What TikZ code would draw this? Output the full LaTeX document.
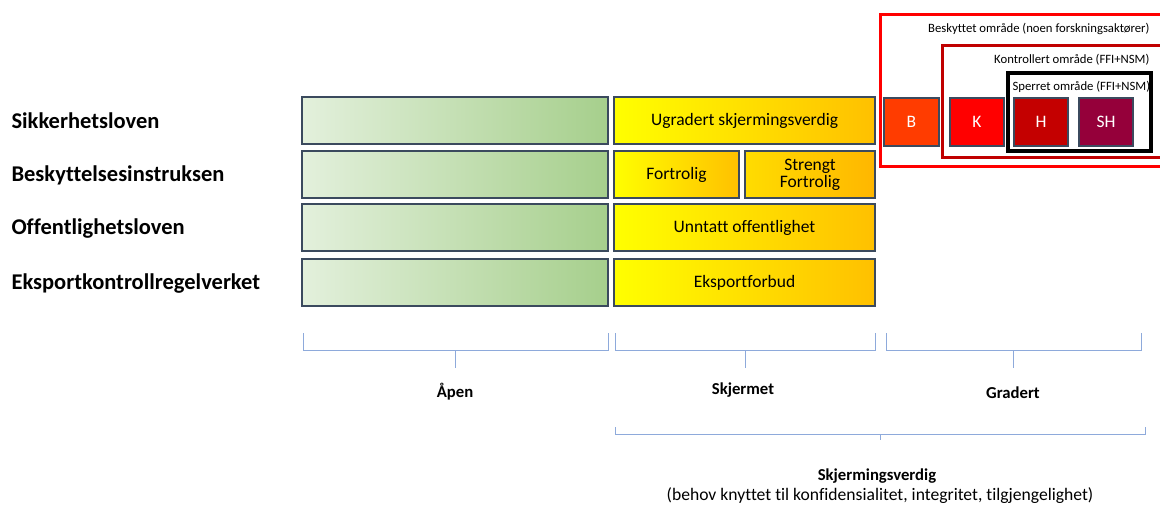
\documentclass[tikz,border=0pt]{standalone}
\usepackage{fontspec}
\setmainfont[Ligatures=NoCommon]{Carlito}
\begin{document}
\begin{tikzpicture}[x=1pt,y=-1pt,
  box/.style={draw=boxline,line width=1.2pt},
  greenbox/.style={box,left color=gA,right color=gB},
  yelbox/.style={box,left color=yellow,right color=yB},
  secbox/.style={box,text=white,font=\fontsize{17.5}{20}\selectfont},
  law/.style={anchor=west,font=\fontsize{22.5}{26}\selectfont\bfseries},
  cat/.style={font=\fontsize{16.7}{19}\selectfont\bfseries},
  intxt/.style={font=\fontsize{17.5}{20}\selectfont},
  brk/.style={draw=brc,line width=0.9pt},
  area/.style={font=\fontsize{12.7}{15}\selectfont}]
\definecolor{boxline}{HTML}{3B4A5E}
\definecolor{gA}{HTML}{E3F0DC}
\definecolor{gB}{HTML}{A6CF8C}
\definecolor{yB}{HTML}{FFC000}
\definecolor{brc}{HTML}{8EAADB}
\definecolor{cB}{HTML}{FF3C00}
\definecolor{cK}{HTML}{FF0000}
\definecolor{cH}{HTML}{C40000}
\definecolor{cSH}{HTML}{95003A}
\definecolor{rA}{HTML}{FF0000}
\definecolor{rB}{HTML}{C00000}
\useasboundingbox (0,0) rectangle (1160,504);
% area frames
\draw[rA,line width=3pt] (880,14) rectangle (1170,166);
\draw[rB,line width=3pt] (942,45) rectangle (1170,157);
\draw[black,line width=4pt] (1008,73) rectangle (1151,151);
\node[area,anchor=east] (tb) at (1153,29) {Beskyttet område (noen forskningsaktører)};
\node[area,anchor=east] (tk) at (1153,60) {Kontrollert område (FFI+NSM)};
\node[area,anchor=west] (ts) at (1009,87) {Sperret område (FFI+NSM)};
% law labels
\node[law] (l1) at (8,121) {Sikkerhetsloven};
\node[law] (l2) at (8,175) {Beskyttelsesinstruksen};
\node[law] (l3) at (8,229) {Offentlighetsloven};
\node[law] (l4) at (8,284) {Eksportkontrollregelverket};
% green boxes
\path[greenbox] (302,97) rectangle (608,144);
\path[greenbox] (302,151) rectangle (608,198);
\path[greenbox] (302,204) rectangle (608,251);
\path[greenbox] (302,259) rectangle (608,306);
% yellow boxes
\path[yelbox] (614,97) rectangle (875,144);
\node[intxt] (u1) at (744.5,121) {Ugradert skjermingsverdig};
\path[yelbox] (614,151) rectangle (739,198);
\node[intxt] (u2) at (676.5,175) {Fortrolig};
\path[box,left color=yB!55!yellow,right color=yB!85!orange] (745,151) rectangle (875,198);
\node[intxt,align=center] (u3) at (810,175) {Strengt\\[-3pt]Fortrolig};
\path[yelbox] (614,204) rectangle (875,251);
\node[intxt] (u4) at (744.5,228) {Unntatt offentlighet};
\path[yelbox] (614,259) rectangle (875,306);
\node[intxt] (u5) at (744.5,283) {Eksportforbud};
% classified boxes
\path[secbox,fill=cB] (884,98) rectangle (939,146);
\node[secbox,draw=none] (b) at (911.5,122) {B};
\path[secbox,fill=cK] (950,98) rectangle (1004,146);
\node[secbox,draw=none] (k) at (977,122) {K};
\path[secbox,fill=cH] (1014,98) rectangle (1068,146);
\node[secbox,draw=none] (h) at (1041,122) {H};
\path[secbox,fill=cSH] (1079,98) rectangle (1133,146);
\node[secbox,draw=none] (sh) at (1106,122) {SH};
% brackets
\draw[brk] (303,333) |- (608,350) -- (608,333);
\draw[brk] (455.5,350) -- (455.5,368);
\draw[brk] (615,333) |- (875,350) -- (875,333);
\draw[brk] (745,350) -- (745,368);
\draw[brk] (886,333) |- (1141,350) -- (1141,333);
\draw[brk] (1013,350) -- (1013,368);
\draw[brk] (615,427) |- (1145,434) -- (1145,427);
\draw[brk] (880,434) -- (880,440);
\node[cat] (c1) at (455,392) {Åpen};
\node[cat] (c2) at (743,390) {Skjermet};
\node[cat] (c3) at (1013,393) {Gradert};
\node[cat] (c4) at (877,476) {Skjermingsverdig};
\node[intxt,font=\fontsize{17.6}{20}\selectfont] (c5) at (880,496) {(behov knyttet til konfidensialitet, integritet, tilgjengelighet)};
\end{tikzpicture}
\end{document}
